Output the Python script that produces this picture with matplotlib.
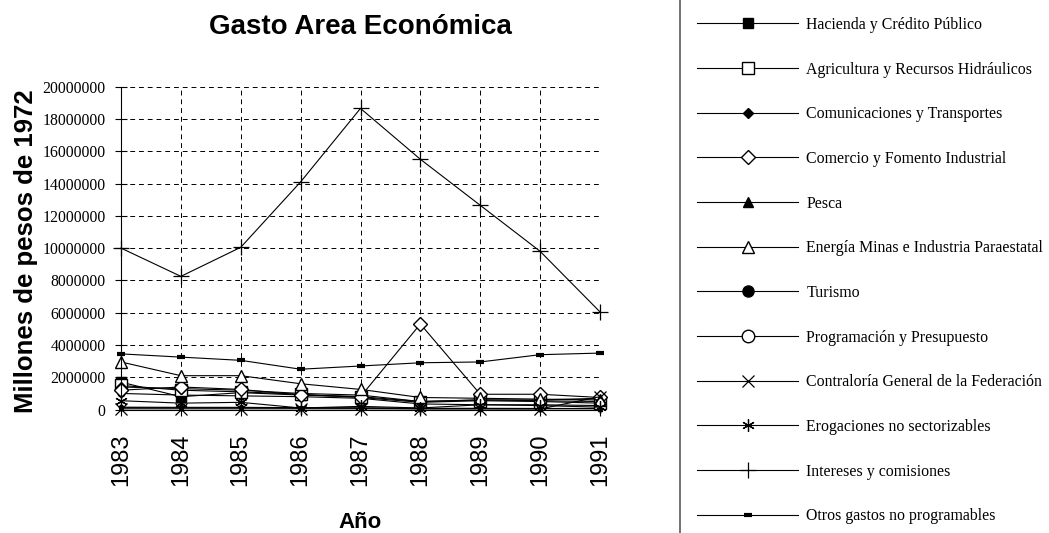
import numpy as np
import matplotlib
matplotlib.use("Agg")
import matplotlib.pyplot as plt
from matplotlib.lines import Line2D

# datos (pesos de 1972)
years = [1983, 1984, 1985, 1986, 1987, 1988, 1989, 1990, 1991]

hacienda = [1700000, 800000, 1050000, 900000, 800000, 500000, 600000, 550000, 500000]
agricultura = [1500000, 1200000, 1100000, 950000, 750000, 450000, 550000, 500000, 400000]
comunicaciones = [1400000, 1300000, 1200000, 1000000, 900000, 500000, 600000, 600000, 700000]
comercio = [1200000, 1400000, 1250000, 900000, 800000, 5300000, 950000, 950000, 750000]
pesca = [120000, 110000, 110000, 100000, 90000, 60000, 60000, 50000, 50000]
energia = [2950000, 2100000, 2100000, 1600000, 1250000, 750000, 700000, 650000, 600000]
turismo = [150000, 140000, 140000, 120000, 110000, 80000, 80000, 70000, 70000]
programacion = [1000000, 900000, 850000, 800000, 700000, 350000, 300000, 300000, 250000]
contraloria = [50000, 50000, 50000, 50000, 50000, 40000, 40000, 40000, 800000]
erogaciones = [550000, 400000, 450000, 100000, 200000, 100000, 300000, 250000, 150000]
intereses = [10000000, 8250000, 10050000, 14100000, 18650000, 15500000, 12650000, 9800000, 6050000]
otros = [3450000, 3250000, 3050000, 2500000, 2700000, 2900000, 2950000, 3400000, 3500000]

series = [
    ("Hacienda y Crédito Público", hacienda, dict(marker="s", ms=7, mfc="black")),
    ("Agricultura y Recursos Hidráulicos", agricultura, dict(marker="s", ms=8, mfc="white")),
    ("Comunicaciones y Transportes", comunicaciones, dict(marker="D", ms=5, mfc="black")),
    ("Comercio y Fomento Industrial", comercio, dict(marker="D", ms=7, mfc="white")),
    ("Pesca", pesca, dict(marker="^", ms=7, mfc="black")),
    ("Energía Minas e Industria Paraestatal", energia, dict(marker="^", ms=9, mfc="white")),
    ("Turismo", turismo, dict(marker="o", ms=8, mfc="black")),
    ("Programación y Presupuesto", programacion, dict(marker="o", ms=9, mfc="white")),
    ("Contraloría General de la Federación", contraloria, dict(marker="x", ms=9, mew=0.9)),
    ("Erogaciones no sectorizables", erogaciones, dict(marker=(6, 2, 0), ms=9, mew=0.9)),
    ("Intereses y comisiones", intereses, dict(marker="+", ms=11, mew=0.9)),
    ("Otros gastos no programables", otros, dict(marker="_", ms=6, mew=3)),
]
# en el gráfico casi no se ven estos marcadores (quedan tapados)
small = {"Pesca": 3, "Turismo": 3, "Programación y Presupuesto": 5}

fig = plt.figure(figsize=(10.49, 5.33), dpi=100)
ax = fig.add_axes([121 / 1049, 1 - 409.6 / 533, (600 - 121) / 1049, (409.6 - 86.6) / 533])

handles = []
for name, vals, st in series:
    st_plot = dict(st)
    if name in small:
        st_plot["ms"] = small[name]
    ax.plot(years, vals, color="black", lw=0.8, mec="black", clip_on=False,
            zorder=1.8 if name in small else 2, **st_plot)
    handles.append(Line2D([], [], color="black", lw=0.8, mec="black", label=name, **st))

ax.set_xlim(1983, 1991)
ax.set_ylim(0, 20000000)
ax.set_xticks(years)
ax.set_yticks(np.arange(0, 20000001, 2000000))
ax.set_yticklabels([str(v) for v in range(0, 20000001, 2000000)],
                   family="Liberation Serif", fontsize=11.3)
ax.set_xticklabels([str(y) for y in years], rotation=90, family="Liberation Sans",
                   fontsize=17, va="top")
ax.tick_params(axis="y", direction="inout", length=8, pad=7, width=0.8)
ax.tick_params(axis="x", direction="out", length=4, pad=13, width=0.8)
ax.grid(True, color="black", linestyle=(0, (5, 4)), lw=0.7)
for s in ["top", "right"]:
    ax.spines[s].set_visible(False)
ax.spines["left"].set_linewidth(0.8)
ax.spines["bottom"].set_linewidth(0.8)

fig.text(360.5 / 1049, 1 - 27 / 533, "Gasto Area Económica", ha="center", va="center",
         family="Liberation Sans", fontsize=20, weight="bold")
fig.text(26 / 1049, 1 - 251 / 533, "Millones de pesos de 1972", ha="center", va="center",
         rotation=90, family="Liberation Sans", fontsize=18.5, weight="bold")
fig.text(360.5 / 1049, 1 - 522 / 533, "Año", ha="center", va="center",
         family="Liberation Sans", fontsize=16, weight="bold")

# leyenda a la derecha con línea separadora
fig.add_artist(Line2D([680 / 1049, 680 / 1049], [0, 1], color="0.35", lw=1.2))
fig.legend(handles=handles, loc="upper left", bbox_to_anchor=(697 / 1049, 1 - 17 / 533),
           frameon=False, handlelength=6.4, handletextpad=0.5, labelspacing=1.81,
           borderpad=0, borderaxespad=0, prop=dict(family="Liberation Serif", size=11.4))

fig.savefig("out.png", dpi=100)
